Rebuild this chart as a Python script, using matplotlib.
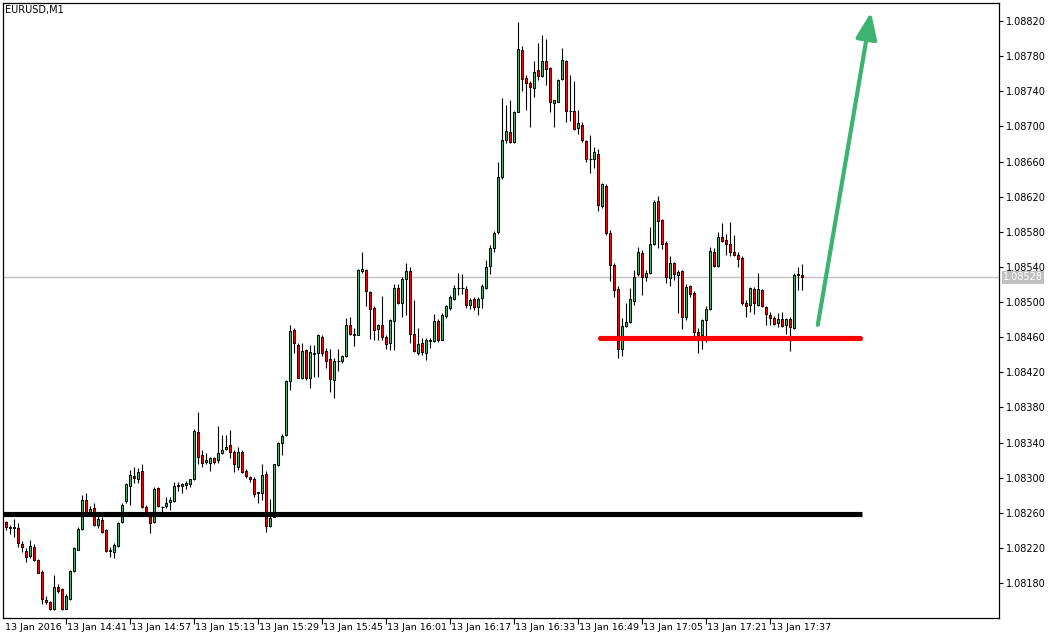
import matplotlib
matplotlib.use("Agg")
import matplotlib.pyplot as plt
from matplotlib.patches import Rectangle
from matplotlib.transforms import blended_transform_factory

# ---- data (prices given as points above 1.08000) ----
BASE = 1.08
open_pts = [250,249,243,244,243,225,216,211,221,206,193,161,158,150,176,173,151,162,194,218,
            241,275,261,265,246,252,240,218,215,222,249,273,291,302,298,308,267,257,249,288,
            267,268,272,273,290,290,292,293,298,352,326,318,317,322,320,328,333,337,329,312,
            329,308,301,298,282,282,304,245,255,314,339,349,410,468,451,413,445,413,441,442,
            460,444,435,411,433,433,438,474,464,462,535,537,511,493,469,474,460,453,478,516,
            499,526,535,464,442,453,442,457,456,478,457,484,493,504,516,516,515,497,503,494,
            505,516,541,561,580,642,684,694,682,716,787,755,749,744,764,757,774,766,727,728,
            754,774,717,717,698,702,683,663,663,669,609,632,579,542,515,446,473,477,501,532,
            556,528,533,566,615,593,567,527,544,531,535,483,518,510,466,462,479,492,557,541,
            574,571,566,557,554,550,499,497,515,497,514,494,485,482,476,481,474,481,470,531,
            531]
high_pts = [254,251,246,253,248,228,220,229,224,207,195,165,160,189,179,174,168,195,221,244,
            280,283,268,271,256,255,241,221,226,250,271,294,309,312,311,316,269,259,289,289,
            268,278,278,295,295,294,296,299,355,375,331,328,324,323,359,349,349,354,332,335,
            332,310,302,301,284,315,308,276,316,341,350,411,474,470,453,453,447,451,451,464,
            462,448,447,436,447,440,482,483,470,538,557,538,512,495,475,507,462,481,521,521,
            528,544,540,502,470,459,459,459,486,481,487,497,508,519,533,532,518,505,506,506,
            520,548,565,581,660,732,724,730,717,819,791,758,752,774,795,804,800,768,730,754,
            789,776,759,752,719,705,684,690,676,674,635,634,582,544,518,482,499,516,537,563,
            559,537,586,616,621,595,569,552,546,537,537,521,519,513,470,481,495,563,561,580,
            590,578,591,576,557,552,502,517,517,533,515,495,489,484,488,489,482,483,533,540,
            543]
low_pts = [231,240,236,233,221,215,204,208,205,191,156,156,149,149,169,149,150,161,193,218,
           240,257,258,245,243,237,215,210,208,221,248,271,269,294,294,265,257,237,248,267,
           260,266,263,272,285,282,287,289,297,315,312,316,308,316,317,327,331,322,307,309,
           305,300,295,278,271,275,238,244,255,313,326,348,400,442,413,412,411,402,415,415,
           438,425,398,391,421,431,437,463,450,462,533,495,458,457,457,457,447,445,445,498,
           483,485,453,443,440,440,434,448,455,455,457,482,491,502,508,509,493,492,491,485,
           493,515,532,557,578,640,681,681,681,716,740,719,699,733,753,756,747,716,699,728,
           753,705,706,696,691,682,659,647,653,604,607,576,524,506,436,438,471,476,497,530,
           508,524,532,565,561,560,522,518,525,487,469,480,506,457,442,447,454,491,540,540,
           568,554,552,552,540,497,483,489,486,495,494,474,474,474,472,471,464,444,469,514,
           514]
close_pts = [240,244,244,243,226,221,210,222,206,192,162,158,151,175,171,150,165,194,220,242,
             275,259,264,246,253,238,216,216,223,248,269,293,303,300,307,267,261,248,287,268,
             267,271,274,291,292,293,294,298,353,324,317,320,322,318,328,332,335,329,315,329,
             306,302,298,281,283,303,245,254,315,340,348,410,467,453,414,444,413,443,442,462,
             442,433,412,433,433,438,474,464,462,536,538,512,492,468,474,460,452,480,516,499,
             526,535,464,444,452,443,457,456,478,457,485,495,506,516,516,516,497,502,494,504,
             518,540,562,579,642,685,695,682,716,788,754,749,745,762,757,774,765,728,730,753,
             776,718,717,697,704,684,663,663,671,610,634,579,542,514,447,473,477,504,529,557,
             529,533,566,614,592,566,528,545,532,534,483,517,509,466,462,479,492,558,541,574,
             570,566,557,554,549,499,495,516,499,515,495,486,482,475,481,473,481,471,531,532,
             528]

time_tick_idx = [0, 16, 32, 48, 64, 80, 96, 112, 128, 144, 160, 176, 192]
time_tick_labels = ["13 Jan 2016", "13 Jan 14:41", "13 Jan 14:57", "13 Jan 15:13",
                    "13 Jan 15:29", "13 Jan 15:45", "13 Jan 16:01", "13 Jan 16:17",
                    "13 Jan 16:33", "13 Jan 16:49", "13 Jan 17:05", "13 Jan 17:21",
                    "13 Jan 17:37"]
price_ticks = [1.08180, 1.08220, 1.08260, 1.08300, 1.08340, 1.08380, 1.08420, 1.08460,
               1.08500, 1.08540, 1.08580, 1.08620, 1.08660, 1.08700, 1.08740, 1.08780, 1.08820]
current_price = 1.08528
support_level = 1.08259
red_level = 1.08459
red_span = (149.5, 214.5)
support_end = 215.0
arrow_start = (203.9, 1.08474)
arrow_end = (217.2, 1.08830)
symbol = "EURUSD,M1"

O = [BASE + v / 1e5 for v in open_pts]
H = [BASE + v / 1e5 for v in high_pts]
L = [BASE + v / 1e5 for v in low_pts]
C = [BASE + v / 1e5 for v in close_pts]

GREEN = "#3CB371"
RED = "#FF0000"
W, Hh = 1052, 639

fig = plt.figure(figsize=(W / 100, Hh / 100), dpi=100)
ax = fig.add_axes([3 / W, 21 / Hh, 996 / W, 615 / Hh])
ax.set_xlim(0.2, 249.2)
ax.set_ylim(1.081402, 1.088405)

# current price line
ax.axhline(current_price, color="#C0C0C0", lw=1.0, zorder=1)

# candles
for i in range(len(O)):
    o, h, l, c = O[i], H[i], L[i], C[i]
    ax.vlines(i, l, h, color="black", lw=0.8, zorder=2)
    if abs(c - o) < 1e-9:
        ax.hlines(o, i - 0.4, i + 0.4, color="black", lw=0.8, zorder=3)
    else:
        col = GREEN if c > o else RED
        bottom = min(o, c)
        ht = max(abs(c - o), 0.000012)
        ax.add_patch(Rectangle((i - 0.3, bottom), 0.6, ht, facecolor=col,
                               edgecolor="black", lw=0.7, zorder=3))

# drawn lines
ax.hlines(support_level, 0.2, support_end, color="black", lw=3.7, zorder=4)
ax.plot(list(red_span), [red_level, red_level], color=RED, lw=3.7,
        solid_capstyle="round", zorder=4)
ax.annotate("", xy=arrow_end, xytext=arrow_start,
            arrowprops=dict(arrowstyle="-|>,head_length=0.8,head_width=0.32",
                            color=GREEN, lw=3.0, mutation_scale=20,
                            shrinkA=0, shrinkB=0), zorder=5)

# axes styling
for s in ax.spines.values():
    s.set_linewidth(0.9)
    s.set_color("black")
ax.yaxis.tick_right()
ax.set_yticks(price_ticks)
ax.set_yticklabels([f"{p:.5f}" for p in price_ticks])
ax.tick_params(axis="y", direction="out", length=3, width=0.8, labelsize=7, pad=2)

ax.set_xticks(time_tick_idx[1:])
ax.set_xticklabels([])
ax.tick_params(axis="x", direction="out", length=4, width=0.8)
trans = blended_transform_factory(ax.transData, ax.transAxes)
for idx, lab in zip(time_tick_idx, time_tick_labels):
    ax.text(max(idx, 0.3) + 0.3, -0.008, lab, transform=trans, ha="left", va="top",
            fontsize=6.8, clip_on=False)

# current price label
ytrans = blended_transform_factory(ax.transAxes, ax.transData)
ax.text(1.0 + 4 / 996, current_price, f"{current_price:.5f}", transform=ytrans,
        ha="left", va="center", fontsize=7, color="white", clip_on=False,
        bbox=dict(boxstyle="square,pad=0.15", facecolor="#C0C0C0", edgecolor="none"))

fig.text(5 / W, 1 - 10 / Hh, symbol, fontsize=7, va="center", ha="left")

fig.savefig("out.png", dpi=100, facecolor="white")
